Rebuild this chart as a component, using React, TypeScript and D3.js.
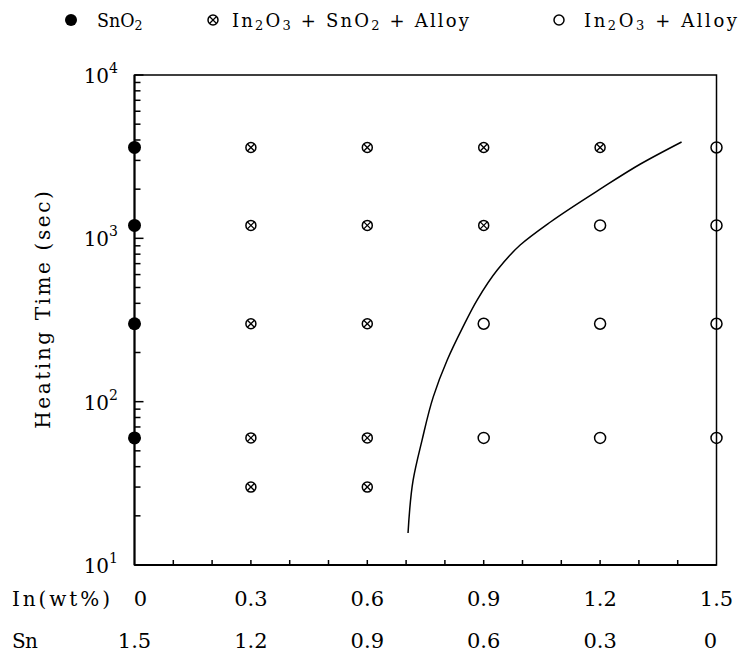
import React from "react";
import * as d3 from "d3";

const timesSnO2 = [60, 300, 1200, 3600];
const crossedPoints: [number, number][] = [
  [0.3, 30], [0.3, 60], [0.3, 300], [0.3, 1200], [0.3, 3600],
  [0.6, 30], [0.6, 60], [0.6, 300], [0.6, 1200], [0.6, 3600],
  [0.9, 1200], [0.9, 3600],
  [1.2, 3600],
];
const openPoints: [number, number][] = [
  [0.9, 60], [0.9, 300],
  [1.2, 60], [1.2, 300], [1.2, 1200],
  [1.5, 60], [1.5, 300], [1.5, 1200], [1.5, 3600],
];
const boundary: [number, number][] = [
  [0.705, 15.7], [0.718, 33], [0.741, 58], [0.770, 107], [0.806, 180],
  [0.845, 282], [0.883, 419], [0.935, 640], [0.994, 910], [1.072, 1259],
  [1.201, 2006], [1.304, 2851], [1.41, 3890],
];
const inTicks = [0, 0.3, 0.6, 0.9, 1.2, 1.5];
const inLabels = ["0", "0.3", "0.6", "0.9", "1.2", "1.5"];
const snLabels = ["1.5", "1.2", "0.9", "0.6", "0.3", "0"];
const minorX = [0.1, 0.2, 0.3, 0.4, 0.5, 0.6, 0.7, 0.8, 0.9, 1.0, 1.1, 1.2, 1.3, 1.4];
const decades = [10, 100, 1000, 10000];

const FONT = "'DejaVu Serif', 'Liberation Serif', serif";
const mono = (n: number, size: number) => n * 0.6 * size;

const Crossed = ({ cx, cy, r }: { cx: number; cy: number; r: number }) => {
  const d = r * 0.7;
  return (
    <g>
      <circle cx={cx} cy={cy} r={r} fill="white" stroke="black" strokeWidth={1.5} />
      <line x1={cx - d} y1={cy - d} x2={cx + d} y2={cy + d} stroke="black" strokeWidth={1.3} />
      <line x1={cx - d} y1={cy + d} x2={cx + d} y2={cy - d} stroke="black" strokeWidth={1.3} />
    </g>
  );
};

export default function App() {
  const W = 739, H = 655;
  const x = d3.scaleLinear().domain([0, 1.5]).range([134.5, 716.5]);
  const y = d3.scaleLog().domain([10, 10000]).range([565, 75]);
  const yTicks = y.ticks();
  const line = d3
    .line<[number, number]>()
    .x((d) => x(d[0]))
    .y((d) => y(d[1]))
    .curve(d3.curveMonotoneY);

  return (
    <svg width={W} height={H} style={{ display: "block", position: "absolute", left: 0, top: 0 }} fontFamily={FONT}>
      <rect width={W} height={H} fill="white" />
      {/* Legend */}
      <circle cx={71} cy={20} r={6} fill="black" />
      <text x={97} y={27} fontSize={18} textLength={mono(4, 19)} lengthAdjust="spacingAndGlyphs">
        SnO<tspan fontSize={13} dy={3}>2</tspan>
      </text>
      <Crossed cx={213} cy={20} r={5} />
      <text x={232} y={27} fontSize={18} textLength={mono(20, 20) - 3} lengthAdjust="spacing">
        In<tspan fontSize={13} dy={3}>2</tspan>
        <tspan dy={-3}>O</tspan>
        <tspan fontSize={13} dy={3}>3</tspan>
        <tspan dy={-3}> + SnO</tspan>
        <tspan fontSize={13} dy={3}>2</tspan>
        <tspan dy={-3}> + Alloy</tspan>
      </text>
      <circle cx={559} cy={20} r={5} fill="none" stroke="black" strokeWidth={1.5} />
      <text x={584} y={27} fontSize={18} textLength={mono(13, 20) - 3} lengthAdjust="spacing">
        In<tspan fontSize={13} dy={3}>2</tspan>
        <tspan dy={-3}>O</tspan>
        <tspan fontSize={13} dy={3}>3</tspan>
        <tspan dy={-3}> + Alloy</tspan>
      </text>

      {/* Frame */}
      <rect x={x(0)} y={y(10000)} width={x(1.5) - x(0)} height={y(10) - y(10000)} fill="none" stroke="black" strokeWidth={1.5} />
      <line x1={x(0)} x2={x(1.5)} y1={y(10)} y2={y(10)} stroke="black" strokeWidth={2} />
      <line x1={x(0)} x2={x(0)} y1={y(10)} y2={y(10000)} stroke="black" strokeWidth={2} />

      {/* x ticks */}
      {minorX.map((t) => (
        <line key={t} x1={x(t)} x2={x(t)} y1={y(10)} y2={y(10) - 5} stroke="black" strokeWidth={1.5} />
      ))}
      {/* y ticks */}
      {yTicks.map((t, i) => {
        const major = decades.includes(t);
        return (
          <line key={i} x1={x(0)} x2={x(0) + (major ? 9 : 6)} y1={y(t)} y2={y(t)} stroke="black" strokeWidth={1.5} />
        );
      })}
      {decades.map((t) => (
        <text key={t} x={118} y={y(t) + 8} fontSize={20} textAnchor="end">
          10<tspan fontSize={14} dy={-10}>{Math.round(Math.log10(t))}</tspan>
        </text>
      ))}
      <text transform={`translate(50,310) rotate(-90)`} fontSize={20} textAnchor="middle" textLength={mono(18, 22)} lengthAdjust="spacing">
        Heating Time (sec)
      </text>

      {/* bottom labels */}
      <text x={12} y={606} fontSize={20} textLength={98} lengthAdjust="spacing">In(wt%)</text>
      <text x={12} y={648} fontSize={20} textLength={26} lengthAdjust="spacing">Sn</text>
      {inTicks.map((t, i) => (
        <text key={"i" + t} x={i === 0 ? x(t) + 6 : x(t)} y={606} fontSize={21} textAnchor="middle">
          {inLabels[i]}
        </text>
      ))}
      {inTicks.map((t, i) => (
        <text key={"s" + t} x={i === 5 ? x(t) - 6 : x(t)} y={648} fontSize={21} textAnchor="middle">
          {snLabels[i]}
        </text>
      ))}

      {/* boundary curve */}
      <path d={line(boundary) || ""} fill="none" stroke="black" strokeWidth={1.5} />

      {/* markers */}
      {timesSnO2.map((t) => (
        <circle key={t} cx={x(0)} cy={y(t)} r={6.5} fill="black" />
      ))}
      {crossedPoints.map((p, i) => (
        <Crossed key={i} cx={x(p[0])} cy={y(p[1])} r={5} />
      ))}
      {openPoints.map((p, i) => (
        <circle key={i} cx={x(p[0])} cy={y(p[1])} r={5.5} fill="white" fillOpacity={p[0] === 1.5 ? 0 : 1} stroke="black" strokeWidth={1.5} />
      ))}
    </svg>
  );
}
